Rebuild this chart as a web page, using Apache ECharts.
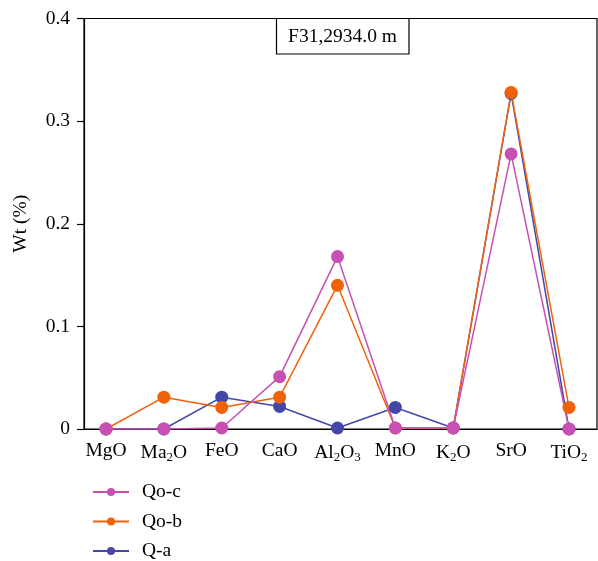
<!DOCTYPE html>
<html><head><meta charset="utf-8">
<script src="https://cdn.jsdelivr.net/npm/echarts@6/dist/echarts.min.js"></script>
<style>html,body{margin:0;padding:0;background:#fff}#c{width:598px;height:561px}</style>
</head><body><div id="c"></div>
<script>
var categories = ['MgO', 'Ma{s|2}O', 'FeO', 'CaO', 'Al{s|2}O{s|3}', 'MnO', 'K{s|2}O', 'SrO', 'TiO{s|2}'];
var qoc = [0, 0, 0.001, 0.051, 0.168, 0.001, 0.001, 0.268, 0];
var qob = [0, 0.031, 0.021, 0.031, 0.140, 0.001, 0.001, 0.328, 0.021];
var qa  = [0, 0, 0.031, 0.022, 0.001, 0.021, 0.001, 0.327, 0];
var yTicks = [0, 0.1, 0.2, 0.3, 0.4];
var F = 'Liberation Serif';
var FS = 19.5;

function pts(arr){ return arr.map(function(v,i){ return [i, v]; }); }
function ser(name, arr, color){
  return { name: name, type: 'line', data: pts(arr), symbol: 'circle', symbolSize: 13,
    lineStyle: { color: color, width: 1.5 }, itemStyle: { color: color }, z: 2 };
}
var chart = echarts.init(document.getElementById('c'), null, { renderer: 'canvas' });
chart.setOption({
  animation: false,
  grid: { left: 84, top: 18.5, width: 513, height: 410.5, outerBoundsMode: 'none', containLabel: false,
    show: true, borderColor: '#000', borderWidth: 1.2, backgroundColor: 'transparent' },
  xAxis: { type: 'value', min: -0.38, max: 8.484,
    axisLine: { show: true, onZero: false, lineStyle: { color: '#000', width: 1.2 } },
    axisTick: { show: false }, splitLine: { show: false },
    axisLabel: { customValues: [0,1,2,3,4,5,6,7,8], margin: 12, color: '#000', fontFamily: F, fontSize: FS,
      formatter: function(v){ return categories[Math.round(v)]; },
      rich: { s: { fontFamily: F, fontSize: 13, color: '#000', padding: [10, 0, 0, 0] } } }
  },
  yAxis: { type: 'value', min: 0, max: 0.4, interval: 0.1,
    name: 'Wt (%)', nameLocation: 'middle', nameGap: 53, nameRotate: 90,
    nameTextStyle: { color: '#000', fontFamily: F, fontSize: FS },
    axisLine: { show: true, onZero: false, lineStyle: { color: '#000', width: 1.2 } },
    axisTick: { show: true, length: 7, inside: false, lineStyle: { color: '#000', width: 1.2 } },
    splitLine: { show: false },
    axisLabel: { color: '#000', fontFamily: F, fontSize: FS, margin: 14,
      formatter: function(v){ return yTicks.indexOf(Math.round(v*10)/10) >= 0 ? String(Math.round(v*10)/10) : ''; } }
  },
  legend: { orient: 'vertical', left: 87, top: 477, height: 110, itemWidth: 36, itemHeight: 10, itemGap: 9.5,
    data: ['Qo-c', 'Qo-b', 'Q-a'],
    textStyle: { color: '#000', fontFamily: F, fontSize: FS, lineHeight: 19, padding: [0, 0, 0, 8] } },
  graphic: [
    { type: 'rect', shape: { x: 276.5, y: 18.5, width: 132.5, height: 35.5 }, style: { fill: '#fff', stroke: '#000', lineWidth: 1.2 }, z: 10 },
    { type: 'text', x: 342.5, y: 37, style: { text: 'F31,2934.0 m', fill: '#000', font: FS + 'px "Liberation Serif"', textAlign: 'center', textVerticalAlign: 'middle' }, z: 11 }
  ],
  series: [
    ser('Q-a', qa, '#4347a8'),
    ser('Qo-b', qob, '#f0620a'),
    ser('Qo-c', qoc, '#c850b4')
  ]
});
</script></body></html>
